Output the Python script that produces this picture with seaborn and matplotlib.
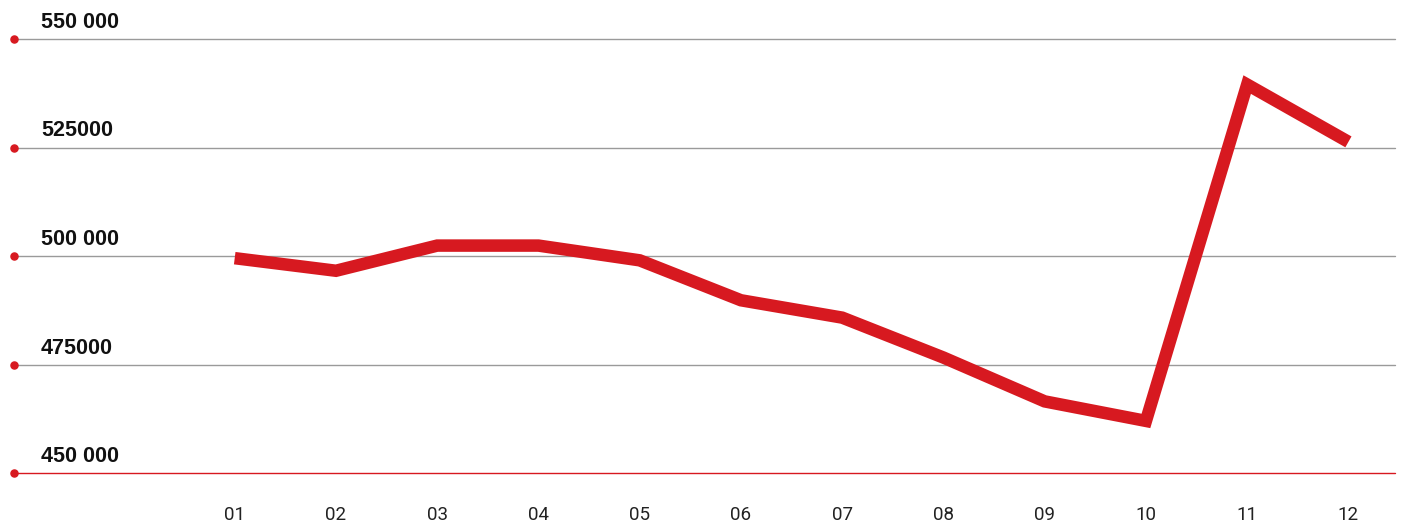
import matplotlib
matplotlib.use("Agg")
import matplotlib.pyplot as plt
import matplotlib.transforms as mtransforms
import seaborn as sns
import pandas as pd

months = ["01", "02", "03", "04", "05", "06", "07", "08", "09", "10", "11", "12"]
values = [499500, 496600, 502400, 502400, 499000, 489800, 485800, 476600, 466500, 462000, 539500, 526300]
ytick_values = [450000, 475000, 500000, 525000, 550000]
ytick_labels = ["450 000", "475000", "500 000", "525000", "550 000"]

RED = "#d71920"
GRID = "#9a9a9a"

sns.set_theme(style="white")
plt.rcParams["font.family"] = ["Liberation Sans", "DejaVu Sans"]

fig = plt.figure(figsize=(14.05, 5.22), dpi=100)
ax = fig.add_axes([14 / 1405, 49 / 522, 1381 / 1405, 434 / 522])

df = pd.DataFrame({"x": range(len(months)), "value": values})
sns.lineplot(data=df, x="x", y="value", ax=ax, color=RED, linewidth=9,
             solid_joinstyle="miter", solid_capstyle="butt", zorder=3)

ax.set_ylim(450000, 550000)
ax.set_xlim(-2.18, 11.46)

for s in ax.spines.values():
    s.set_visible(False)

trans = mtransforms.blended_transform_factory(ax.transAxes, ax.transData)
for v, lab in zip(ytick_values, ytick_labels):
    col = RED if v == 450000 else GRID
    ax.plot([0, 1], [v, v], transform=trans, color=col, linewidth=1.0,
            clip_on=False, zorder=1)
    ax.scatter([0.0], [v], transform=trans, color=RED, s=26, clip_on=False, zorder=4)
    ax.annotate(lab, xy=(0, v), xycoords=trans, xytext=(27, 6), textcoords="offset pixels",
                ha="left", va="bottom", fontsize=15.5, fontweight="bold", color="#111111")

ax.set_yticks([])
ax.set_xticks(range(len(months)))
ax.set_xticklabels(months, fontsize=13.5, color="#222222", family=["Roboto", "DejaVu Sans"])
ax.tick_params(axis="x", length=0, pad=24)
ax.set_xlabel("")
ax.set_ylabel("")

fig.savefig("out.png", dpi=100)
